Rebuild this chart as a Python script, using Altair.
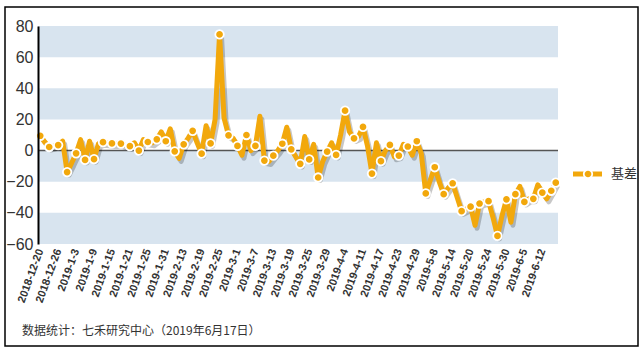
import altair as alt
import pandas as pd

dates = [
    "2018-12-20", "2018-12-21", "2018-12-24", "2018-12-25", "2018-12-26", "2018-12-27", "2018-12-28",
    "2019-1-2", "2019-1-3", "2019-1-4", "2019-1-7", "2019-1-8", "2019-1-9", "2019-1-10", "2019-1-11",
    "2019-1-14", "2019-1-15", "2019-1-16", "2019-1-17", "2019-1-18", "2019-1-21", "2019-1-22",
    "2019-1-23", "2019-1-24", "2019-1-25", "2019-1-28", "2019-1-29", "2019-1-30", "2019-1-31",
    "2019-2-1", "2019-2-11", "2019-2-12", "2019-2-13", "2019-2-14", "2019-2-15", "2019-2-18",
    "2019-2-19", "2019-2-20", "2019-2-21", "2019-2-22", "2019-2-25", "2019-2-26", "2019-2-27",
    "2019-2-28", "2019-3-1", "2019-3-4", "2019-3-5", "2019-3-6", "2019-3-7", "2019-3-8",
    "2019-3-11", "2019-3-12", "2019-3-13", "2019-3-14", "2019-3-15", "2019-3-18", "2019-3-19",
    "2019-3-20", "2019-3-21", "2019-3-22", "2019-3-25", "2019-3-26", "2019-3-27", "2019-3-28",
    "2019-3-29", "2019-4-1", "2019-4-2", "2019-4-3", "2019-4-4", "2019-4-8", "2019-4-9",
    "2019-4-10", "2019-4-11", "2019-4-12", "2019-4-15", "2019-4-16", "2019-4-17", "2019-4-18",
    "2019-4-19", "2019-4-22", "2019-4-23", "2019-4-24", "2019-4-25", "2019-4-26", "2019-4-29",
    "2019-4-30", "2019-5-6", "2019-5-7", "2019-5-8", "2019-5-9", "2019-5-10", "2019-5-13",
    "2019-5-14", "2019-5-15", "2019-5-16", "2019-5-17", "2019-5-20", "2019-5-21", "2019-5-22",
    "2019-5-23", "2019-5-24", "2019-5-27", "2019-5-28", "2019-5-29", "2019-5-30", "2019-5-31",
    "2019-6-3", "2019-6-4", "2019-6-5", "2019-6-6", "2019-6-10", "2019-6-11", "2019-6-12",
    "2019-6-13", "2019-6-14", "2019-6-17",
]

basis = [
    9.5, 5.5, 2.3, 3, 3.5, 6, -13.8, -8, -1.8, 7, -6, 6, -5.5, 4.5, 5.4,
    5, 4.6, 4.5, 4.5, 3.5, 2.8, 5, 0, 7, 5.5, 5, 7.2, 12, 6, 14,
    -0.5, -5, 4, 8, 12.7, 5, -2, 16, 4.6, 20, 74.6, 21, 9.8, 8, 3,
    -3, 10, 0, 3, 22, -6.4, -7, -3.3, 0, 4.4, 15, 0.8, -4, -8.5, 9,
    -5.7, 4, -17.3, -7, -0.7, 5, -2.8, 10, 25.6, 12, 7.8, 9, 15.2, 3, -14.8,
    5, -6.8, 0, 3.6, -4, -3.2, 4, 2.6, -3, 6, -2, -27.5, -19, -10.7, -20,
    -28, -24, -21, -30, -38.9, -37.5, -36, -48, -34, -33, -32.5, -43, -54.8, -42, -31.3,
    -46, -28, -23, -33, -31, -31, -22, -27, -31, -25.8, -20.6,
]

axis_labels = [
    "2018-12-20", "2018-12-26", "2019-1-3", "2019-1-9", "2019-1-15", "2019-1-21", "2019-1-25",
    "2019-1-31", "2019-2-13", "2019-2-19", "2019-2-25", "2019-3-1", "2019-3-7", "2019-3-13",
    "2019-3-19", "2019-3-25", "2019-3-29", "2019-4-4", "2019-4-11", "2019-4-17", "2019-4-23",
    "2019-4-29", "2019-5-8", "2019-5-14", "2019-5-20", "2019-5-24", "2019-5-30", "2019-6-5",
    "2019-6-12",
]

y_ticks = [-60, -40, -20, 0, 20, 40, 60, 80]
band_low = [60, 20, -20, -60]
band_high = [80, 40, 0, -40]

series_name = "基差"
footnote = "数据统计：七禾研究中心（2019年6月17日）"

ORANGE = "#F2A80C"
BAND = "#D8E4EF"
W, H = 520, 218

df = pd.DataFrame({"date": dates, "value": basis, "idx": list(range(len(dates)))})
bands = pd.DataFrame({"lo": band_low, "hi": band_high})
last_idx = len(dates) - 1

xscale = alt.Scale(type="point", domain=dates, padding=0.5)
yscale = alt.Scale(domain=[-60, 80], nice=False, zero=False)

x_axis = alt.Axis(values=axis_labels, title=None, domain=False, ticks=False,
                  labelAngle=290, labelAlign="right", labelBaseline="middle",
                  labelFont="Liberation Sans", labelFontSize=11, labelFontWeight="bold",
                  labelColor="#333333", labelPadding=5, labelOverlap=False)
y_axis = alt.Axis(values=y_ticks, title=None, grid=False, ticks=False,
                  domain=True, domainColor="#000000", domainWidth=2,
                  labelFont="Liberation Sans", labelFontSize=16, labelColor="#333333",
                  labelPadding=5, zindex=1)

x_enc = alt.X("date:O", sort=None, scale=xscale, axis=x_axis)
y_enc = alt.Y("value:Q", scale=yscale, axis=y_axis)

band_layer = alt.Chart(bands).mark_rect(color=BAND).encode(
    x=alt.value(0), x2=alt.value(W),
    y=alt.Y("hi:Q", scale=yscale, axis=y_axis), y2="lo:Q",
)

zero_layer = alt.Chart(pd.DataFrame({"z": [0]})).mark_rule(color="#555555", strokeWidth=1.5).encode(
    x=alt.value(0), x2=alt.value(W), y=alt.Y("z:Q", scale=yscale, axis=y_axis),
)

shadow = alt.Chart(df).mark_line(color="#000000", opacity=0.22, strokeWidth=5,
                                 xOffset=2, yOffset=3, strokeJoin="round").encode(x=x_enc, y=y_enc)

line = alt.Chart(df).mark_line(color=ORANGE, strokeWidth=5, strokeJoin="round").encode(x=x_enc, y=y_enc)

pts = alt.Chart(df).transform_filter(
    "datum.idx % 2 == 0 || datum.idx == " + str(last_idx)
).mark_point(filled=True, fill=ORANGE, stroke="#FFFFFF", strokeWidth=1.8, size=72, opacity=1).encode(
    x=x_enc, y=y_enc)

# legend
leg = pd.DataFrame({"name": [series_name]})
leg_line = alt.Chart(leg).mark_rule(color=ORANGE, strokeWidth=5).encode(
    x=alt.value(535), x2=alt.value(564), y=alt.value(148))
leg_pt = alt.Chart(leg).mark_point(filled=True, fill=ORANGE, stroke="#FFFFFF", strokeWidth=1.8,
                                   size=72, opacity=1).encode(x=alt.value(550), y=alt.value(148))
leg_txt = alt.Chart(leg).mark_text(align="left", baseline="middle", font="Noto Sans CJK SC",
                                   fontSize=13, color="#333333").encode(
    x=alt.value(573), y=alt.value(148), text="name:N")

note = alt.Chart(pd.DataFrame({"t": [footnote]})).mark_text(
    align="left", baseline="middle", font="Noto Sans CJK SC", fontSize=12, color="#333333").encode(
    x=alt.value(-16), y=alt.value(305), text="t:N")

border = alt.Chart(pd.DataFrame({"b": [1]})).mark_rect(fill=None, stroke="#000000", strokeWidth=1.5).encode(
    x=alt.value(-33), x2=alt.value(600), y=alt.value(-19), y2=alt.value(320))

chart = alt.layer(
    band_layer, zero_layer, shadow, line, pts, leg_line, leg_pt, leg_txt, note, border
).resolve_scale(y="shared", x="shared").properties(
    width=W, height=H,
    autosize=alt.AutoSizeParams(type="none"),
    padding={"left": 38, "top": 26, "right": 85, "bottom": 108},
    background="#FFFFFF",
).configure_view(stroke=None)

chart.save("out.html", embed_options={"renderer": "svg", "actions": False})
